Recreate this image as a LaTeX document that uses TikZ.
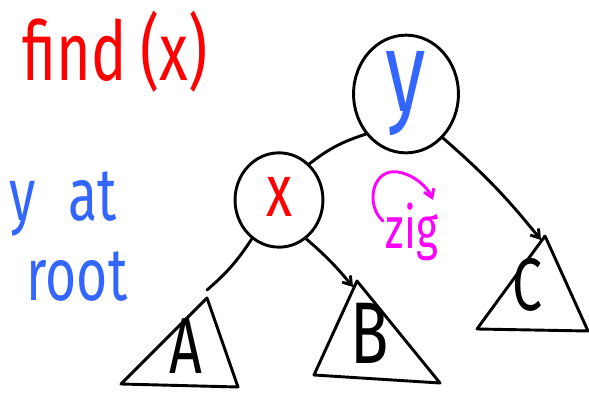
\documentclass[tikz,border=0pt]{standalone}
\usepackage{fontspec}
\setmainfont{Fira Sans}
\newfontfamily\hand[FakeStretch=0.72]{Fira Sans}
\usetikzlibrary{shapes.geometric,arrows.meta,positioning,calc}
\definecolor{penred}{RGB}{255,0,0}
\definecolor{penblue}{RGB}{51,102,255}
\definecolor{penpink}{RGB}{255,0,255}

\begin{document}
\begin{tikzpicture}[
    x=0.0265cm, y=-0.0265cm,
    keynode/.style={ellipse, draw=black, line width=2.2pt, inner sep=0pt},
    subtree/.style={draw=black, line width=2.2pt, line join=round},
    treeedge/.style={draw=black, line width=2.2pt, line cap=round},
    tip/.style={-{Straight Barb[length=6pt,width=8pt]}},
    hand/.style={font=\hand\fontsize{#1}{#1}\selectfont, inner sep=0pt}
]
\useasboundingbox (0,0) rectangle (589,393);

% Title and note
\node[hand=62, text=penred] (title) at (115,52) {find\,(x)};
\node[hand=56, text=penblue] (yat) at (63,204) {y\;\,at};
\node[hand=56, text=penblue] (root) at (77,277) {root};

% Keys
\node[keynode, minimum width=2.78cm, minimum height=3.12cm] (y) at (406,94) {};
\node[hand=86, text=penblue] at (406,94) {y};
\node[keynode, minimum width=2.33cm, minimum height=2.5cm] (x) at (279,200) {};
\node[hand=56, text=penred] at (279,197) {x};

% Subtrees
\coordinate (Atop) at (207,298);
\coordinate (Btop) at (357,281);
\coordinate (Ctop) at (545,236);
\draw[subtree] (Atop) -- (238,387) -- (121,384) -- cycle;
\draw[subtree] (Btop) -- (440,383) -- (314,375) -- cycle;
\draw[subtree] (Ctop) -- (588,331) -- (477,329) -- cycle;
\node[hand=60] (A) at (186,346) {A};
\node[hand=66] (B) at (370,333) {B};
\node[hand=56] (C) at (527,285) {C};

% Edges
\draw[treeedge] (y.225) to[bend right=10] (x.50);
\draw[treeedge, tip] (y.310) to[bend left=5] ($(Ctop)+(-4,4)$);
\draw[treeedge] (x.235) to[bend left=8] ($(Atop)+(0,-8)$);
\draw[treeedge, tip] (x.305) to[bend left=5] ($(Btop)+(-4,6)$);

% Rotation
\node[hand=44, text=penpink] (zig) at (412,232) {zig};
\draw[penpink, line width=2.2pt, line cap=round, tip]
    (383,221) .. controls (365,205) and (372,168) .. (398,172)
    .. controls (415,175) and (428,188) .. (433,200);
\end{tikzpicture}
\end{document}
